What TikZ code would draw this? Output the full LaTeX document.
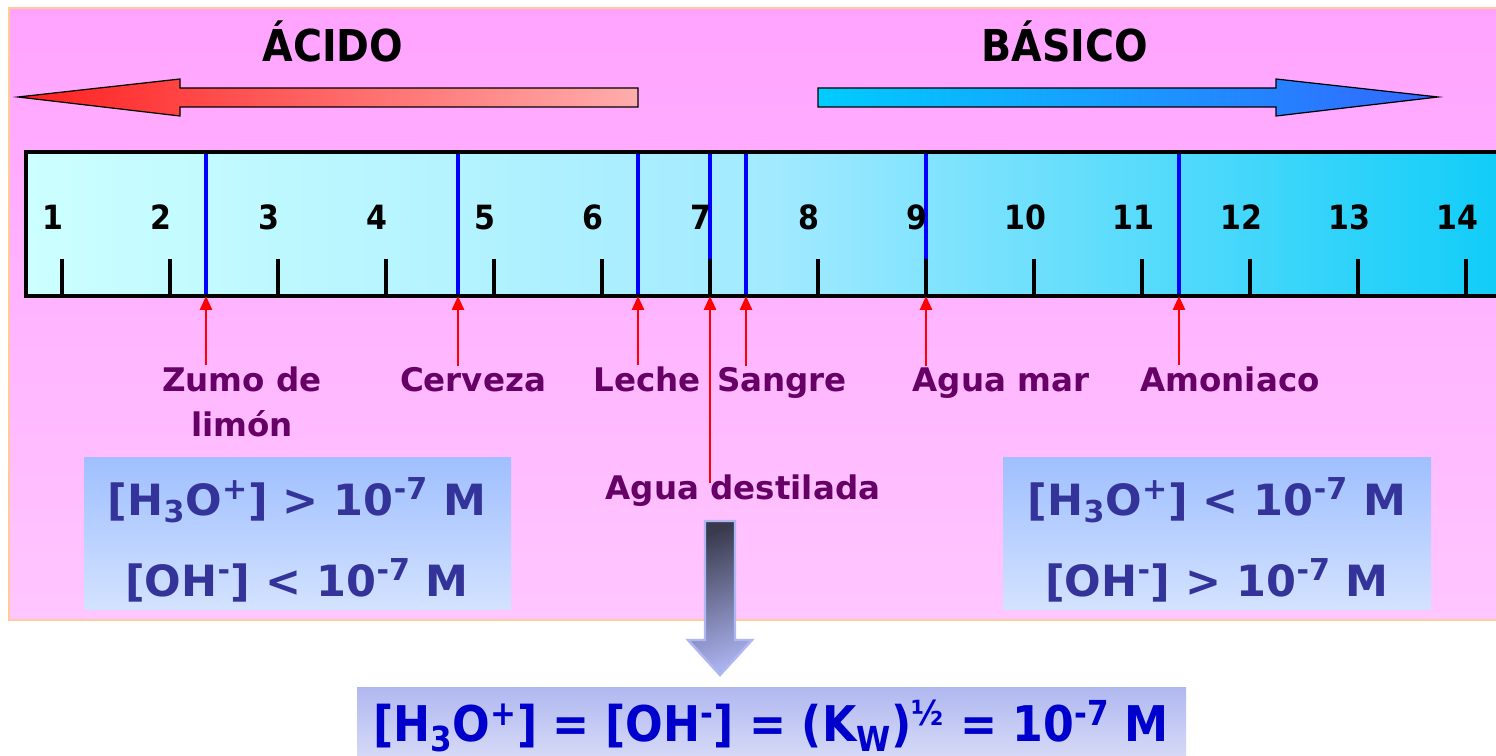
\documentclass[tikz,border=0pt]{standalone}
\usepackage{fontspec}
\setmainfont{DejaVu Sans}
\newfontfamily\condfont{DejaVu Sans Condensed}
\usepackage{xcolor}
\usepackage{tikz}
\usetikzlibrary{arrows.meta,positioning,calc}
\definecolor{PhPink}{HTML}{FFA3FF}
\definecolor{PhPinkLight}{HTML}{FFC6FF}
\definecolor{PhFrame}{HTML}{FFCC99}
\definecolor{PhCyanLight}{HTML}{CCFFFF}
\definecolor{PhCyanMid}{HTML}{A2EAFF}
\definecolor{PhCyan}{HTML}{0DCCF8}
\definecolor{PhMark}{HTML}{0000FF}
\definecolor{PhRed}{HTML}{FF1F1F}
\definecolor{PhRedLight}{HTML}{FFADAD}
\definecolor{PhSky}{HTML}{00CCFF}
\definecolor{PhBlue}{HTML}{3366FF}
\definecolor{PhPurple}{HTML}{660066}
\definecolor{PhIon}{HTML}{333399}
\definecolor{PhBoxTop}{HTML}{9FBFFF}
\definecolor{PhBoxBot}{HTML}{D3E2FF}
\definecolor{PhEqTop}{HTML}{B0B8F0}
\definecolor{PhEqBot}{HTML}{DCE0F8}
\definecolor{PhEq}{HTML}{0000CC}
\definecolor{PhArrowDark}{HTML}{3A3A4E}
\definecolor{PhArrowLight}{HTML}{A9B1EC}
\definecolor{PhArrowRim}{HTML}{AEB6F4}
\tikzset{
  titletext/.style={font=\condfont\bfseries\fontsize{25}{30}\selectfont,anchor=base,inner sep=1pt},
  phnum/.style={font=\condfont\bfseries\fontsize{19}{22}\selectfont,anchor=base,inner sep=1pt},
  phtick/.style={line width=2pt,draw=black},
  markline/.style={line width=2pt,draw=PhMark},
  markarrow/.style={-{Triangle[length=2.8mm,width=2.4mm]},line width=1.6pt,draw=red,fill=red},
  samplelabel/.style={font=\bfseries\fontsize{18.5}{25}\selectfont,text=PhPurple,anchor=base,inner sep=1pt},
  ionbox/.style={top color=PhBoxTop,bottom color=PhBoxBot},
  iontext/.style={font=\bfseries\fontsize{24.5}{30}\selectfont,text=PhIon,anchor=base,inner sep=1pt},
  eqbox/.style={top color=PhEqTop,bottom color=PhEqBot},
  eqtext/.style={font=\condfont\bfseries\fontsize{28}{34}\selectfont,text=PhEq,anchor=base,inner sep=1pt}
}
\begin{document}
\begin{tikzpicture}[x=0.02cm,y=-0.02cm]
\useasboundingbox (0,0) rectangle (1496,756);
\clip (0,0) rectangle (1496,756);
\fill[white] (0,0) rectangle (1496,756);
% pink panel
\path[draw=PhFrame,line width=1.4pt,top color=PhPink,bottom color=PhPinkLight] (9,8) rectangle (1520,620);
% acid / base arrows
\node[titletext] (acido) at (333,62) {ÁCIDO};
\node[titletext] (basico) at (1065,62) {BÁSICO};
\path[draw=black,line width=0.7pt,left color=PhRed,right color=PhRedLight]
  (18,97) -- (180,79) -- (180,88) -- (638,88) -- (638,107) -- (180,107) -- (180,116) -- cycle;
\path[draw=black,line width=0.7pt,left color=PhSky,right color=PhBlue]
  (818,88) -- (1276,88) -- (1276,79) -- (1438,97) -- (1276,116) -- (1276,107) -- (818,107) -- cycle;
% pH scale
\path[left color=PhCyanLight,right color=PhCyan,middle color=PhCyanMid] (26,152) rectangle (1520,296);
\coordinate (mZumo) at (206,296);
\coordinate (mCerveza) at (458,296);
\coordinate (mLeche) at (638,296);
\coordinate (mDest) at (710,296);
\coordinate (mSangre) at (746,296);
\coordinate (mMar) at (926,296);
\coordinate (mAmon) at (1179,296);
\foreach \m in {mZumo,mCerveza,mLeche,mDest,mSangre,mMar,mAmon}{\draw[markline] (\m) -- ++(0,-144);}
\foreach \n in {1,...,14}{
  \draw[phtick] ({62+108*(\n-1)},259) -- ({62+108*(\n-1)},296);
  \node[phnum] (n\n) at ({53+108*(\n-1)},230) {\n};
}
\draw[line width=1.8pt] (26,152) rectangle (1520,296);
% samples
\node[samplelabel] (zumo) at (242,392) {Zumo de};
\node[samplelabel] (limon) at (242,436) {limón};
\node[samplelabel] (cerveza) at (473,392) {Cerveza};
\node[samplelabel] (leche) at (647,392) {Leche};
\node[samplelabel] (sangre) at (782,392) {Sangre};
\node[samplelabel] (mar) at (1001,392) {Agua mar};
\node[samplelabel] (amon) at (1230,392) {Amoniaco};
\node[samplelabel] (dest) at (743,499) {Agua destilada};
\draw[markarrow] (mZumo |- zumo.north) -- (mZumo);
\draw[markarrow] (mCerveza |- cerveza.north) -- (mCerveza);
\draw[markarrow] (mLeche |- leche.north) -- (mLeche);
\draw[markarrow] (mSangre |- sangre.north) -- (mSangre);
\draw[markarrow] (mMar |- mar.north) -- (mMar);
\draw[markarrow] (mAmon |- amon.north) -- (mAmon);
\draw[markarrow] ([yshift=-6pt]mDest |- dest.north) -- (mDest);
% concentration boxes
\path[ionbox] (84,457) rectangle (511,609);
\node[iontext] (acidH) at (297,515) {[H\textsubscript{3}O\textsuperscript{+}] > 10\textsuperscript{-7} M};
\node[iontext] (acidOH) at (297,596) {[OH\textsuperscript{-}] < 10\textsuperscript{-7} M};
\path[ionbox] (1003,457) rectangle (1431,609);
\node[iontext] (baseH) at (1217,515) {[H\textsubscript{3}O\textsuperscript{+}] < 10\textsuperscript{-7} M};
\node[iontext] (baseOH) at (1217,596) {[OH\textsuperscript{-}] > 10\textsuperscript{-7} M};
% down arrow and neutral equation
\path[draw=PhArrowRim,line width=1.4pt,top color=PhArrowDark,bottom color=PhArrowLight,shading angle=20]
  (705,521) -- (735,521) -- (735,640) -- (752,640) -- (720,675) -- (688,640) -- (705,640) -- cycle;
\path[eqbox] (357,687) rectangle (1186,770);
\node[eqtext] (neutral) at (771,741) {[H\textsubscript{3}O\textsuperscript{+}] = [OH\textsuperscript{-}] = (K\textsubscript{W})\textsuperscript{½} = 10\textsuperscript{-7} M};
\end{tikzpicture}
\end{document}
